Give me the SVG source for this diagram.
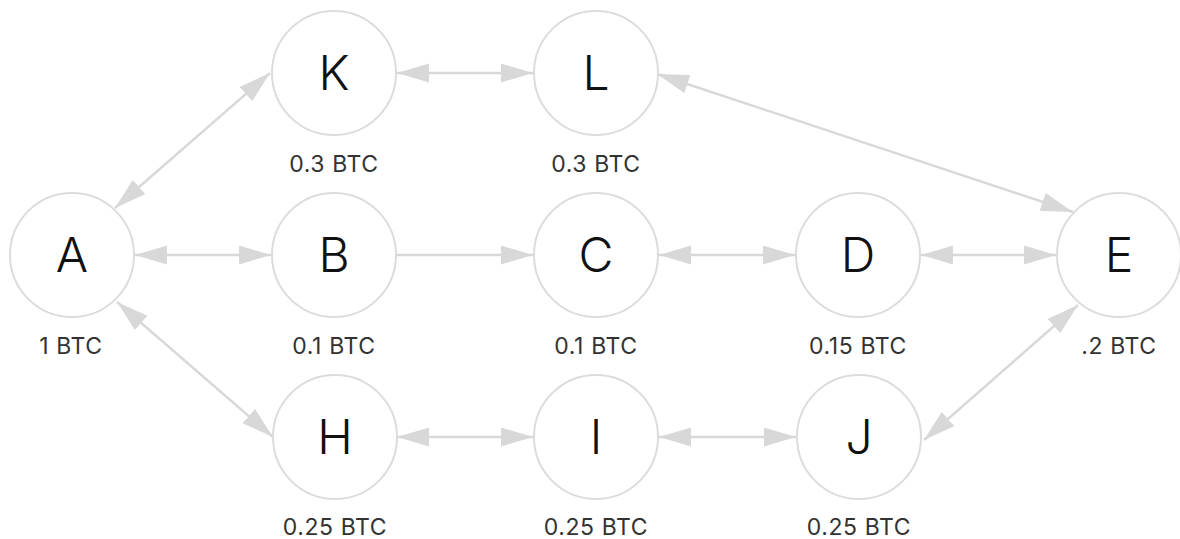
<svg xmlns="http://www.w3.org/2000/svg" width="1180" height="539" viewBox="0 0 1180 539">
  <style>
    .node circle { fill: #ffffff; stroke: #dcdcdc; stroke-width: 2; }
    .node .name { font-family: Inter, "Liberation Sans", sans-serif; font-weight: 300; font-size: 48px; fill: #111111; text-anchor: middle; }
    .node .amount { font-family: Inter, "Liberation Sans", sans-serif; font-weight: 400; font-size: 23px; letter-spacing: 0.6px; fill: #333333; text-anchor: middle; }
    .edges line { stroke: #d8d8d8; stroke-width: 2.4; fill: none; }
    .both { marker-start: url(#arrow); marker-end: url(#arrow); }
    .one { marker-end: url(#arrow); }
  </style>
  <defs>
    <marker id="arrow" markerUnits="userSpaceOnUse" markerWidth="33" markerHeight="20" refX="32" refY="9.5" orient="auto-start-reverse">
      <path d="M0,0 L32,9.5 L0,19 Z" fill="#d8d8d8"/>
    </marker>
  </defs>
  <rect width="1180" height="539" fill="#ffffff"/>

  <!-- connectors -->
  <g class="edges">
    <line class="both" x1="115" y1="208" x2="270" y2="73"/>
    <line class="both" x1="397" y1="73" x2="533" y2="73"/>
    <line class="both" x1="657" y1="74" x2="1073" y2="212"/>
    <line class="both" x1="135" y1="255" x2="271" y2="255"/>
    <line class="one" x1="397" y1="255" x2="533" y2="255"/>
    <line class="both" x1="659" y1="255" x2="795" y2="255"/>
    <line class="both" x1="921" y1="255" x2="1056" y2="255"/>
    <line class="both" x1="117" y1="302" x2="273" y2="437"/>
    <line class="both" x1="397" y1="437" x2="533" y2="437"/>
    <line class="both" x1="659" y1="437" x2="796" y2="437"/>
    <line class="both" x1="924" y1="440" x2="1078" y2="305"/>
  </g>

  <!-- nodes -->
  <g id="node-K" class="node"><circle cx="334" cy="73" r="62"/><text class="name" x="334" y="90">K</text><text class="amount" x="334" y="172">0.3 BTC</text></g>
  <g id="node-L" class="node"><circle cx="596" cy="73" r="62"/><text class="name" x="596" y="90">L</text><text class="amount" x="596" y="172">0.3 BTC</text></g>
  <g id="node-A" class="node"><circle cx="72" cy="255" r="62"/><text class="name" x="72" y="272">A</text><text class="amount" x="71" y="354">1 BTC</text></g>
  <g id="node-B" class="node"><circle cx="334" cy="255" r="62"/><text class="name" x="334" y="272">B</text><text class="amount" x="334" y="354">0.1 BTC</text></g>
  <g id="node-C" class="node"><circle cx="596" cy="255" r="62"/><text class="name" x="596" y="272">C</text><text class="amount" x="596" y="354">0.1 BTC</text></g>
  <g id="node-D" class="node"><circle cx="858" cy="255" r="62"/><text class="name" x="858" y="272">D</text><text class="amount" x="858" y="354">0.15 BTC</text></g>
  <g id="node-E" class="node"><circle cx="1119" cy="255" r="62"/><text class="name" x="1119" y="272">E</text><text class="amount" x="1119" y="354">.2 BTC</text></g>
  <g id="node-H" class="node"><circle cx="335" cy="437" r="62"/><text class="name" x="335" y="454">H</text><text class="amount" x="335" y="535">0.25 BTC</text></g>
  <g id="node-I" class="node"><circle cx="596" cy="437" r="62"/><text class="name" x="596" y="454">I</text><text class="amount" x="596" y="535">0.25 BTC</text></g>
  <g id="node-J" class="node"><circle cx="859" cy="437" r="62"/><text class="name" x="859" y="454">J</text><text class="amount" x="859" y="535">0.25 BTC</text></g>
</svg>
